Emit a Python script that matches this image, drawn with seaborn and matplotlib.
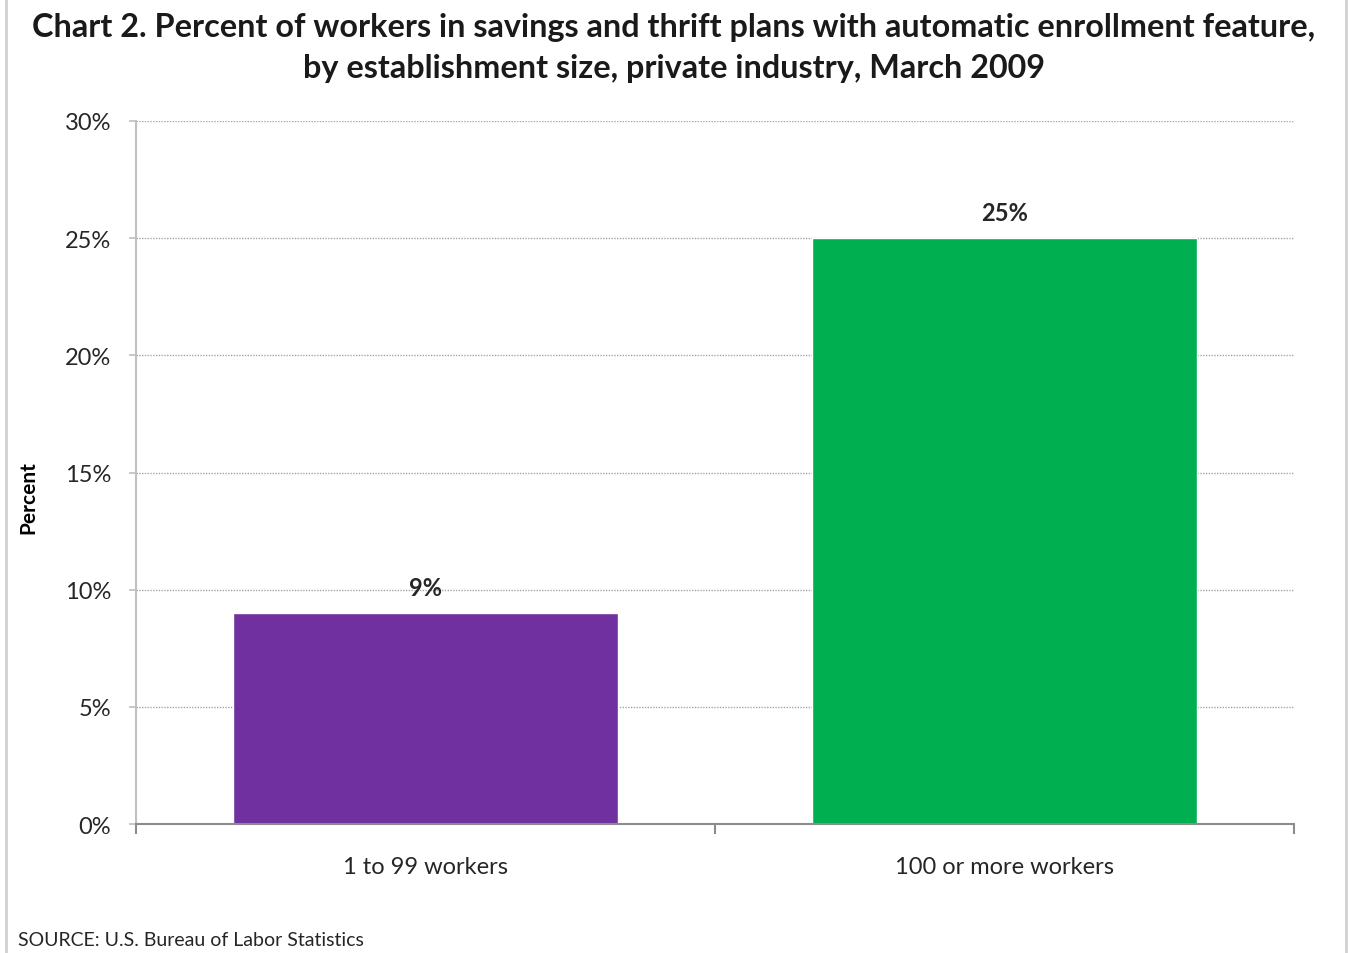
import matplotlib
matplotlib.use("Agg")
import matplotlib.pyplot as plt
from matplotlib.patches import Rectangle
from matplotlib.ticker import FuncFormatter, MultipleLocator
import seaborn as sns
import pandas as pd

# Data
categories = ["1 to 99 workers", "100 or more workers"]
percent_values = [9, 25]
bar_colors = ["#7030A0", "#00B050"]
title_text = ("Chart 2. Percent of workers in savings and thrift plans with automatic enrollment feature,\n"
              "by establishment size, private industry, March 2009")
source_text = "SOURCE: U.S. Bureau of Labor Statistics"

df = pd.DataFrame({"size": categories, "pct": percent_values})

sns.set_theme(style="white")
plt.rcParams["font.family"] = ["Lato", "DejaVu Sans"]

fig = plt.figure(figsize=(13.48, 9.54), dpi=100)
ax = fig.add_axes([136 / 1348, 1 - 825 / 954, (1294 - 136) / 1348, (825 - 122) / 954])

sns.barplot(data=df, x="size", y="pct", hue="size", palette=bar_colors,
            width=0.665, legend=False, ax=ax, saturation=1)

ax.set_xlim(-0.5, 1.5)
ax.set_ylim(0, 30)
ax.yaxis.set_major_locator(MultipleLocator(5))
ax.yaxis.set_major_formatter(FuncFormatter(lambda v, p: f"{v:.0f}%"))
ax.grid(axis="y", color="#a6a6a6", linestyle=(0, (1, 1)), linewidth=1)
ax.set_axisbelow(True)

# Category boundaries carry tick marks; labels sit at bar centres
ax.set_xticks([-0.5, 0.5, 1.5])
ax.set_xticklabels([])
ax.set_xticks([0, 1], minor=True)
ax.set_xticklabels(categories, minor=True, fontsize=17, color="#262626")
ax.tick_params(axis="x", which="minor", length=0, pad=23)
ax.tick_params(axis="x", which="major", direction="out", length=7, width=1.5, color="#8c8c8c", bottom=True)
ax.tick_params(axis="y", direction="out", length=5, width=1.2, color="#bfbfbf", left=True,
               labelsize=17, labelcolor="#262626", pad=13)

for side in ["top", "right"]:
    ax.spines[side].set_visible(False)
ax.spines["left"].set_color("#bfbfbf")
ax.spines["left"].set_linewidth(1.5)
ax.spines["bottom"].set_color("#8c8c8c")
ax.spines["bottom"].set_linewidth(1.5)

ax.set_xlabel("")
ax.set_ylabel("")
fig.text(28 / 1348, 1 - 498 / 954, "Percent", rotation=90, ha="center", va="center",
         fontsize=15, fontweight="bold", color="black")

for i, v in enumerate(percent_values):
    ax.annotate(f"{v}%", (i, v), xytext=(0, 26), textcoords="offset pixels",
                ha="center", va="center", fontsize=17, fontweight="bold", color="#262626")

fig.text(0.5, 1 - 48 / 954, title_text, ha="center", va="center", fontsize=23.3,
         fontweight="bold", linespacing=1.52, color="#1a1a1a")
fig.text(18 / 1348, 1 - 941 / 954, source_text, ha="left", va="center", fontsize=14, color="#262626")

fig.patches.append(Rectangle((6 / 1348, -0.01), (1346 - 6) / 1348, 1.02, transform=fig.transFigure,
                             fill=False, edgecolor="#d0d0d0", linewidth=2))

fig.savefig("out.png", dpi=100)
